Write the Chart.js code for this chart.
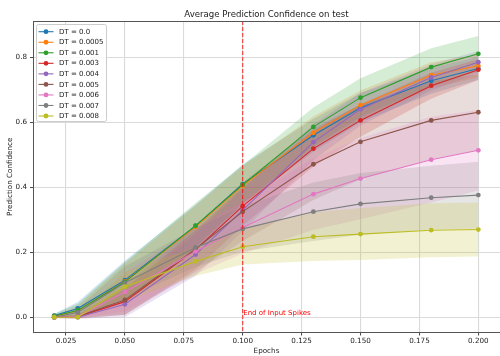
<!DOCTYPE html>
<html>
<head>
<meta charset="utf-8">
<script src="https://cdn.jsdelivr.net/npm/chart.js@4.4.1/dist/chart.umd.min.js"></script>
<style>
html, body { margin: 0; padding: 0; overflow: hidden; background: #fff; width: 500px; height: 356px; }
canvas { display: block; }
</style>
</head>
<body>
<canvas id="c" width="504" height="356" style="width:504px;height:356px"></canvas>
<script>
// ---- data ----
const epochs = [0.02, 0.03, 0.05, 0.08, 0.10, 0.13, 0.15, 0.18, 0.20];
const xTicks = [0.025, 0.050, 0.075, 0.100, 0.125, 0.150, 0.175, 0.200];
const yTicks = [0.0, 0.2, 0.4, 0.6, 0.8];
const seriesLabels = ["DT = 0.0", "DT = 0.0005", "DT = 0.001", "DT = 0.003", "DT = 0.004", "DT = 0.005", "DT = 0.006", "DT = 0.007", "DT = 0.008"];

const meanDT0     = [0.005, 0.027, 0.114, 0.281, 0.410, 0.560, 0.645, 0.728, 0.766];
const meanDT00005 = [0.002, 0.020, 0.110, 0.278, 0.405, 0.568, 0.653, 0.745, 0.774];
const meanDT0001  = [0.004, 0.021, 0.109, 0.282, 0.408, 0.586, 0.676, 0.770, 0.811];
const meanDT0003  = [0.000, 0.002, 0.048, 0.208, 0.342, 0.519, 0.606, 0.713, 0.762];
const meanDT0004  = [0.000, 0.000, 0.040, 0.193, 0.330, 0.539, 0.640, 0.738, 0.785];
const meanDT0005  = [0.000, 0.003, 0.053, 0.210, 0.325, 0.471, 0.540, 0.606, 0.631];
const meanDT0006  = [0.000, 0.002, 0.078, 0.203, 0.276, 0.379, 0.427, 0.485, 0.514];
const meanDT0007  = [0.000, 0.015, 0.106, 0.215, 0.272, 0.325, 0.349, 0.368, 0.376];
const meanDT0008  = [0.000, 0.000, 0.094, 0.172, 0.217, 0.248, 0.256, 0.268, 0.270];

const stdDT0     = [0.006, 0.020, 0.060, 0.065, 0.060, 0.050, 0.045, 0.040, 0.035];
const stdDT00005 = [0.004, 0.015, 0.055, 0.065, 0.060, 0.050, 0.045, 0.040, 0.035];
const stdDT0001  = [0.006, 0.020, 0.060, 0.070, 0.060, 0.060, 0.060, 0.058, 0.055];
const stdDT0003  = [0.002, 0.006, 0.040, 0.060, 0.060, 0.055, 0.050, 0.040, 0.032];
const stdDT0004  = [0.002, 0.005, 0.040, 0.065, 0.065, 0.055, 0.050, 0.040, 0.035];
const stdDT0005  = [0.002, 0.006, 0.045, 0.070, 0.090, 0.110, 0.115, 0.120, 0.117];
const stdDT0006  = [0.002, 0.005, 0.060, 0.070, 0.080, 0.110, 0.125, 0.132, 0.124];
const stdDT0007  = [0.002, 0.012, 0.050, 0.060, 0.070, 0.090, 0.095, 0.098, 0.103];
const stdDT0008  = [0.002, 0.005, 0.045, 0.045, 0.055, 0.075, 0.080, 0.083, 0.083];

const spikeEnd = 0.10;
const spikeLabel = "End of Input Spikes";
const chartTitle = "Average Prediction Confidence on test";
const xTitle = "Epochs";
const yTitle = "Prediction Confidence";

// ---- styling ----
const colors = ["#1f77b4", "#ff7f0e", "#2ca02c", "#d62728", "#9467bd", "#8c564b", "#e377c2", "#7f7f7f", "#bcbd22"];
const means = [meanDT0, meanDT00005, meanDT0001, meanDT0003, meanDT0004, meanDT0005, meanDT0006, meanDT0007, meanDT0008];
const stds = [stdDT0, stdDT00005, stdDT0001, stdDT0003, stdDT0004, stdDT0005, stdDT0006, stdDT0007, stdDT0008];
const FONT = "'DejaVu Sans', 'Liberation Sans', sans-serif";

function rgba(hex, a) {
  const n = parseInt(hex.slice(1), 16);
  return `rgba(${(n >> 16) & 255},${(n >> 8) & 255},${n & 255},${a})`;
}

const datasets = [];
const n = means.length;
means.forEach((m, i) => {
  const s = stds[i];
  datasets.push({
    label: "_upper" + i, isBand: true,
    data: epochs.map((x, k) => ({ x, y: m[k] + s[k] })),
    borderWidth: 0, pointRadius: 0, fill: false, order: 200 + (n - i)
  });
  datasets.push({
    label: "_lower" + i, isBand: true,
    data: epochs.map((x, k) => ({ x, y: m[k] - s[k] })),
    borderWidth: 0, pointRadius: 0, fill: '-1',
    backgroundColor: rgba(colors[i], 0.2), order: 200 + (n - i)
  });
});
means.forEach((m, i) => {
  datasets.push({
    label: seriesLabels[i],
    data: epochs.map((x, k) => ({ x, y: m[k] })),
    borderColor: colors[i], backgroundColor: colors[i],
    borderWidth: 1.1, pointRadius: 2.4, pointBorderWidth: 0,
    pointBackgroundColor: colors[i], fill: false, tension: 0,
    order: n - i
  });
});

const overlay = {
  id: 'overlay',
  afterDatasetsDraw(chart) {
    const { ctx, chartArea: a, scales } = chart;
    const px = scales.x.getPixelForValue(spikeEnd);
    ctx.save();
    ctx.strokeStyle = 'rgba(255,0,0,0.75)';
    ctx.lineWidth = 1.1;
    ctx.setLineDash([4, 2]);
    ctx.beginPath();
    ctx.moveTo(px, a.top);
    ctx.lineTo(px, a.bottom);
    ctx.stroke();
    ctx.setLineDash([]);
    ctx.fillStyle = '#ff0000';
    ctx.font = `7px ${FONT}`;
    ctx.textAlign = 'left';
    ctx.textBaseline = 'middle';
    ctx.fillText(spikeLabel, px + 0.5, scales.y.getPixelForValue(0.012));
    // top spine
    ctx.strokeStyle = '#555';
    ctx.lineWidth = 1;
    ctx.beginPath();
    ctx.moveTo(a.left, a.top + 0.5);
    ctx.lineTo(a.right, a.top + 0.5);
    ctx.stroke();
    ctx.restore();
  },
  afterDraw(chart) {
    const { ctx, chartArea: a } = chart;
    ctx.save();
    // title
    ctx.fillStyle = '#222';
    ctx.font = `8.6px ${FONT}`;
    ctx.textAlign = 'center';
    ctx.textBaseline = 'middle';
    ctx.fillText(chartTitle, (a.left + a.right) / 2, 14.3);
    // legend
    const bx = 36.5, by = 24.5, bw = 70, bh = 97;
    ctx.beginPath();
    ctx.roundRect(bx, by, bw, bh, 2);
    ctx.fillStyle = 'rgba(255,255,255,0.8)';
    ctx.fill();
    ctx.strokeStyle = '#cccccc';
    ctx.lineWidth = 1;
    ctx.stroke();
    ctx.font = `7px ${FONT}`;
    ctx.textAlign = 'left';
    ctx.textBaseline = 'middle';
    const lineSets = chart.data.datasets.filter(d => !d.isBand);
    lineSets.forEach((d, i) => {
      const y = 31.7 + i * 10.54;
      ctx.strokeStyle = d.borderColor;
      ctx.lineWidth = 1.1;
      ctx.beginPath();
      ctx.moveTo(38.5, y);
      ctx.lineTo(53.5, y);
      ctx.stroke();
      ctx.fillStyle = d.borderColor;
      ctx.beginPath();
      ctx.arc(46, y, 2.4, 0, Math.PI * 2);
      ctx.fill();
      ctx.fillStyle = '#222';
      ctx.fillText(d.label, 59, y + 0.3);
    });
    ctx.restore();
  }
};

new Chart(document.getElementById('c'), {
  type: 'line',
  data: { datasets },
  options: {
    responsive: false,
    animation: false,
    devicePixelRatio: 1,
    layout: { padding: { top: 21, right: 1, left: 0, bottom: 0 } },
    plugins: { legend: { display: false }, tooltip: { enabled: false }, title: { display: false } },
    scales: {
      x: {
        type: 'linear', min: 0.011, max: 0.2092,
        afterBuildTicks: s => { s.ticks = xTicks.map(v => ({ value: v })); },
        afterFit: s => { s.height = 23.5; },
        ticks: { callback: v => Number(v).toFixed(3), font: { family: FONT, size: 7.2 }, color: '#222', padding: 1.5, maxRotation: 0, autoSkip: false },
        grid: { color: '#dadada', lineWidth: 1.1, tickColor: '#444', tickLength: 3, tickWidth: 1 },
        border: { display: true, color: '#555', width: 1 },
        title: { display: true, text: xTitle, font: { family: FONT, size: 7.2 }, color: '#222', padding: { top: 0, bottom: 1 } }
      },
      y: {
        type: 'linear', min: -0.047, max: 0.912,
        afterBuildTicks: s => { s.ticks = yTicks.map(v => ({ value: v })); },
        afterFit: s => { s.width = 33; },
        ticks: { callback: v => Number(v).toFixed(1), font: { family: FONT, size: 7.2 }, color: '#222', padding: 3 },
        grid: { color: '#dadada', lineWidth: 1.1, tickColor: '#444', tickLength: 3, tickWidth: 1 },
        border: { display: true, color: '#555', width: 1 },
        title: { display: true, text: yTitle, font: { family: FONT, size: 7.2 }, color: '#222', padding: { top: 5.7, bottom: 0 } }
      }
    }
  },
  plugins: [overlay]
});
</script>
</body>
</html>
